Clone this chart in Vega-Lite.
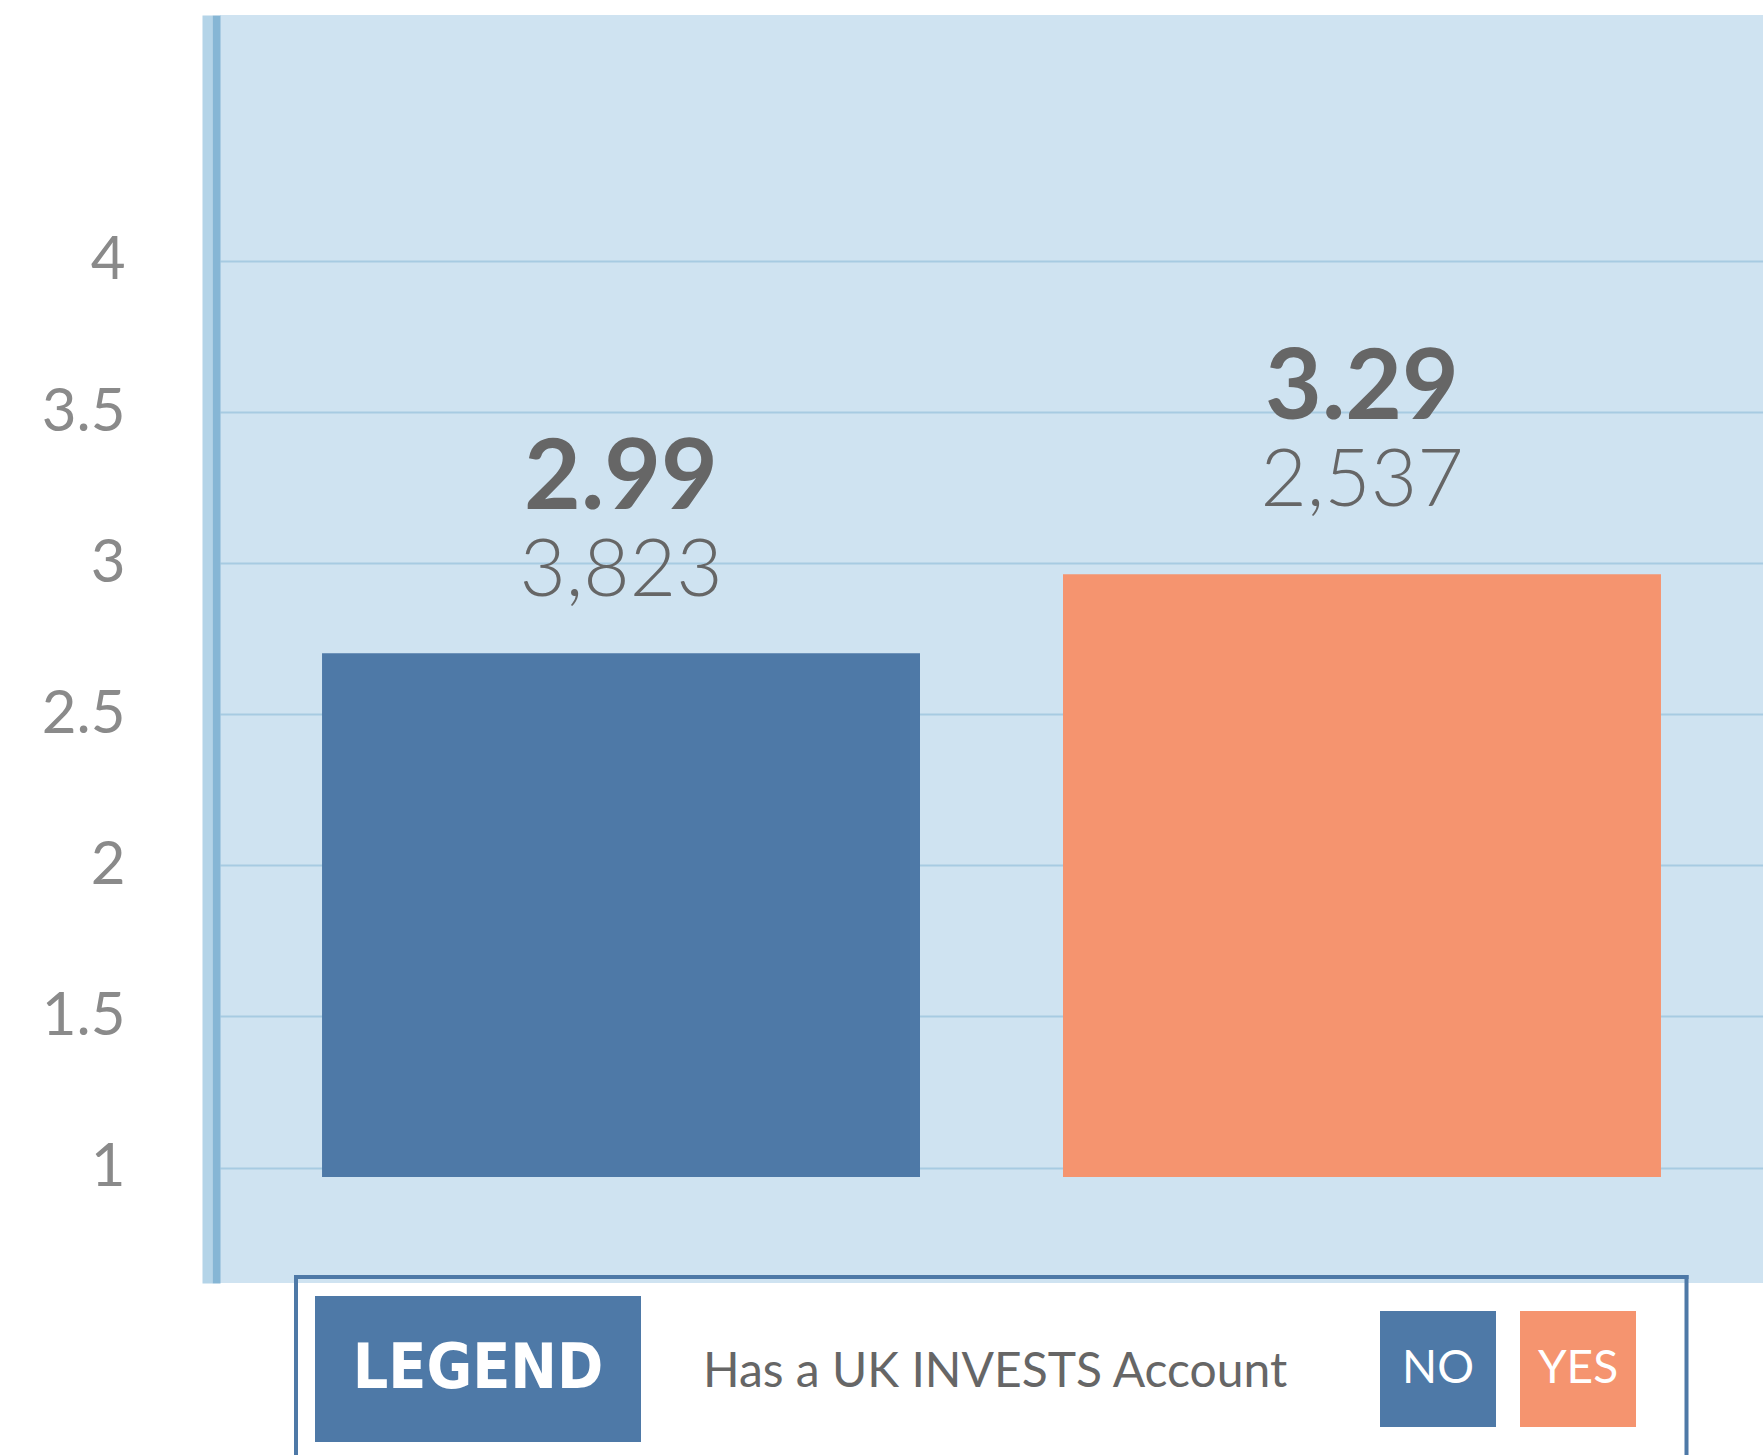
{
  "$schema": "https://vega.github.io/schema/vega-lite/v6.json",
  "padding": {"left": 41, "top": 15, "right": 0, "bottom": 0},
  "autosize": {"type": "pad"},
  "background": "white",
  "spacing": 0,
  "bounds": "flush",
  "config": {"view": {"stroke": null}, "font": "Lato"},
  "vconcat": [
    {
      "width": 1543,
      "height": 1268,
      "view": {"fill": "#cfe3f1", "stroke": null},
      "data": {"values": [
        {"group": "NO", "mean": 2.99, "n_label": "3,823"},
        {"group": "YES", "mean": 3.29, "n_label": "2,537"}
      ]},
      "encoding": {
        "x": {"field": "group", "type": "nominal", "scale": {"domain": ["NO", "YES"], "paddingInner": 0.193, "paddingOuter": 0.1377}, "axis": null}
      },
      "layer": [
        {
          "mark": {"type": "point", "opacity": 0},
          "encoding": {
            "y": {"field": "mean", "type": "quantitative", "scale": {"domain": [0.618, 4.814], "nice": false, "zero": false},
              "axis": {"orient": "left", "values": [1, 1.5, 2, 2.5, 3, 3.5, 4], "grid": true, "gridColor": "#a7cbe2", "gridWidth": 2,
                "domain": true, "domainColor": "#b4d4e8", "domainWidth": 10, "offset": 13, "ticks": false, "tickSize": 0,
                "labelPadding": 82, "labelFontSize": 60, "labelColor": "#8a8a8a", "labelFont": "Lato", "title": null, "format": "~g",
                "labelFlush": false, "labelOverlap": false}}
          }
        },
        {
          "mark": {"type": "bar"},
          "encoding": {
            "y": {"field": "mean", "type": "quantitative", "scale": {"domain": [0.597, 5.415], "nice": false, "zero": false},
              "axis": {"orient": "left", "domain": true, "domainColor": "#86b6d5", "domainWidth": 8, "offset": 4, "labels": false, "ticks": false, "tickSize": 0, "grid": false, "title": null}},
            "y2": {"datum": 1},
            "color": {"field": "group", "type": "nominal", "scale": {"domain": ["NO", "YES"], "range": ["#4e79a7", "#f5946f"]}, "legend": null}
          }
        },
        {
          "mark": {"type": "text", "dy": -57, "fontSize": 98, "fontWeight": "bold", "color": "#666666", "baseline": "alphabetic", "font": "Lato"},
          "encoding": {
            "y": {"field": "mean", "type": "quantitative", "scale": {"domain": [0.618, 4.814], "nice": false, "zero": false}, "axis": null},
            "text": {"field": "mean", "type": "quantitative", "format": ".2f"}
          }
        },
        {
          "mark": {"type": "text", "dy": 30, "fontSize": 80, "fontWeight": 300, "color": "#666666", "baseline": "alphabetic", "font": "Lato"},
          "encoding": {
            "y": {"field": "mean", "type": "quantitative", "scale": {"domain": [0.618, 4.814], "nice": false, "zero": false}, "axis": null},
            "text": {"field": "n_label", "type": "nominal"}
          }
        }
      ],
      "resolve": {"scale": {"y": "independent"}, "axis": {"y": "independent"}}
    },
    {
      "width": 1543,
      "height": 172,
      "view": {"stroke": null},
      "data": {"values": [{"legend_title": "Has a UK INVESTS Account", "box_title": "LEGEND"}]},
      "layer": [
        {
          "mark": {"type": "rect", "fill": "white"},
          "encoding": {
            "x": {"datum": 76, "type": "quantitative", "scale": {"domain": [0, 1543], "nice": false, "zero": false}, "axis": null},
            "x2": {"datum": 1466.5},
            "y": {"datum": 8, "type": "quantitative", "scale": {"domain": [8, 180], "nice": false, "zero": false, "reverse": true}, "axis": null},
            "y2": {"datum": 180}
          }
        },
        {
          "mark": {"type": "rule", "stroke": "#4e79a7", "strokeWidth": 4},
          "encoding": {
            "x": {"datum": 74, "type": "quantitative"},
            "x2": {"datum": 1468.5},
            "y": {"datum": 2, "type": "quantitative"}
          }
        },
        {
          "mark": {"type": "rule", "stroke": "#4e79a7", "strokeWidth": 4},
          "encoding": {
            "x": {"datum": 76, "type": "quantitative"},
            "y": {"datum": 0, "type": "quantitative"},
            "y2": {"datum": 180}
          }
        },
        {
          "mark": {"type": "rule", "stroke": "#4e79a7", "strokeWidth": 4},
          "encoding": {
            "x": {"datum": 1466.5, "type": "quantitative"},
            "y": {"datum": 0, "type": "quantitative"},
            "y2": {"datum": 180}
          }
        },
        {
          "mark": {"type": "rect", "fill": "#4e79a7"},
          "encoding": {
            "x": {"datum": 95, "type": "quantitative"},
            "x2": {"datum": 421},
            "y": {"datum": 21, "type": "quantitative"},
            "y2": {"datum": 167}
          }
        },
        {
          "mark": {"type": "text", "color": "white", "font": "DejaVu Sans Condensed, Roboto Condensed, Liberation Sans, sans-serif", "fontWeight": "bold", "fontSize": 62, "baseline": "middle", "align": "center"},
          "encoding": {
            "x": {"datum": 258, "type": "quantitative"},
            "y": {"datum": 94, "type": "quantitative"},
            "text": {"field": "box_title"}
          }
        },
        {
          "mark": {"type": "text", "color": "#666666", "font": "Lato", "fontSize": 48, "baseline": "alphabetic", "align": "left"},
          "encoding": {
            "x": {"datum": 483, "type": "quantitative"},
            "y": {"datum": 112, "type": "quantitative"},
            "text": {"field": "legend_title"}
          }
        },
        {
          "mark": {"type": "rect"},
          "encoding": {
            "x": {"datum": 1160, "type": "quantitative"},
            "x2": {"datum": 1276},
            "y": {"datum": 36, "type": "quantitative"},
            "y2": {"datum": 152},
            "color": {"datum": "NO", "type": "nominal", "scale": {"domain": ["NO", "YES"], "range": ["#4e79a7", "#f5946f"]}, "legend": null}
          }
        },
        {
          "mark": {"type": "rect"},
          "encoding": {
            "x": {"datum": 1300, "type": "quantitative"},
            "x2": {"datum": 1416},
            "y": {"datum": 36, "type": "quantitative"},
            "y2": {"datum": 152},
            "color": {"datum": "YES", "type": "nominal", "scale": {"domain": ["NO", "YES"], "range": ["#4e79a7", "#f5946f"]}, "legend": null}
          }
        },
        {
          "mark": {"type": "text", "color": "white", "font": "Lato", "fontSize": 46, "baseline": "middle", "align": "center", "text": "NO"},
          "encoding": {
            "x": {"datum": 1218, "type": "quantitative"},
            "y": {"datum": 94, "type": "quantitative"}
          }
        },
        {
          "mark": {"type": "text", "color": "white", "font": "Lato", "fontSize": 46, "baseline": "middle", "align": "center", "text": "YES"},
          "encoding": {
            "x": {"datum": 1358, "type": "quantitative"},
            "y": {"datum": 94, "type": "quantitative"}
          }
        }
      ]
    }
  ]
}
